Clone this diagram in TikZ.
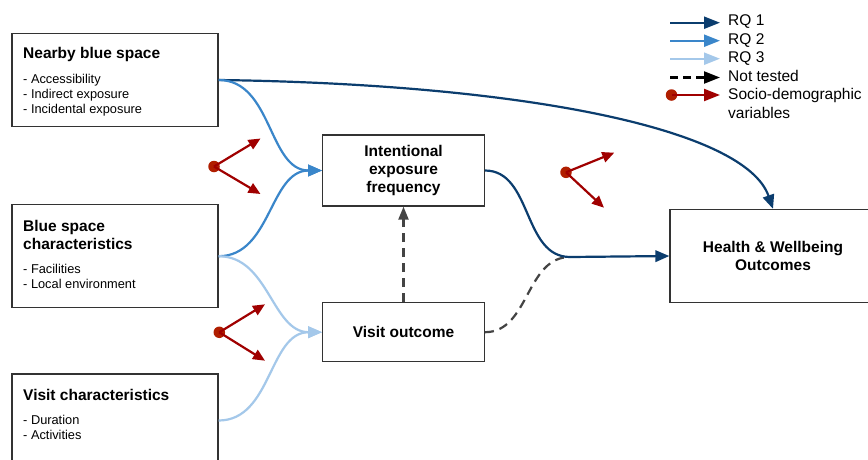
\documentclass[tikz,border=0pt]{standalone}
\usepackage{fontspec}
\setmainfont{Liberation Sans}
\usetikzlibrary{arrows.meta}
\definecolor{rqone}{HTML}{0B3D6E}
\definecolor{rqtwo}{HTML}{3A86CA}
\definecolor{rqthree}{HTML}{A4C8EA}
\definecolor{socred}{HTML}{A00000}
\definecolor{socdot}{HTML}{B01E00}
\definecolor{boxgray}{HTML}{333333}
\definecolor{dashgray}{HTML}{444444}
\begin{document}
\begin{tikzpicture}[x=1pt,y=-1pt,
  box/.style={draw=boxgray,line width=1.3pt,rectangle,inner sep=0pt,fill=white},
  ttl/.style={font=\fontsize{15.5}{18}\selectfont\bfseries,inner sep=0pt,align=left},
  itm/.style={font=\fontsize{12.8}{15}\selectfont,inner sep=0pt,align=left},
  ctr/.style={font=\fontsize{15.5}{18.3}\selectfont\bfseries,align=center},
  lgd/.style={font=\fontsize{15.5}{18.8}\selectfont,inner sep=0pt,align=left},
  tipbig/.style={-{Triangle[length=14pt,width=11.5pt]}},
  tiplgd/.style={-{Triangle[length=16pt,width=12pt]}},
  rqa/.style={draw=rqone,line width=2.2pt,tipbig},
  rqb/.style={draw=rqtwo,line width=2.2pt,tipbig},
  rqc/.style={draw=rqthree,line width=2.2pt,tipbig},
  ntg/.style={draw=dashgray,line width=2.2pt,dash pattern=on 9pt off 6pt,-{Triangle[length=13pt,width=10pt]}},
  ntline/.style={draw=dashgray,line width=2.2pt,dash pattern=on 9pt off 6pt},
  redarr/.style={draw=socred,line width=2.2pt,-{Triangle[length=12pt,width=10.5pt]}},
  reddot/.style={circle,fill=socdot,inner sep=0pt,minimum size=11.5pt},
]
\useasboundingbox (0,0) rectangle (868,459);
\clip (0,0) rectangle (868,459);
\fill[white] (0,0) rectangle (868,459);

% left boxes
\node[box,minimum width=206pt,minimum height=93pt] (nb) at (115,80) {};
\node[ttl,anchor=base west] (nbt) at (23,58.7) {Nearby blue space};
\node[itm,anchor=north west] (nbi) at (23,74.2) {- Accessibility\\- Indirect exposure\\- Incidental exposure};

\node[box,minimum width=206pt,minimum height=103pt] (bc) at (115,256.2) {};
\node[ttl,anchor=north west] (bct) at (23,220.3) {Blue space\\characteristics};
\node[itm,anchor=north west] (bci) at (23,264.2) {- Facilities\\- Local environment};

\node[box,minimum width=206pt,minimum height=93pt] (vc) at (115,420.5) {};
\node[ttl,anchor=base west] (vct) at (23,400) {Visit characteristics};
\node[itm,anchor=north west] (vci) at (23,415.2) {- Duration\\- Activities};

% middle boxes
\node[box,ctr,minimum width=161.6pt,minimum height=71pt] (ief) at (403.5,170.5) {Intentional\\exposure\\frequency};
\node[box,ctr,minimum width=161.6pt,minimum height=59pt] (vo) at (403.5,332.2) {Visit outcome};

% outcome box
\node[box,ctr,minimum width=206pt,minimum height=93pt] (hw) at (773,256) {Health \& Wellbeing\\Outcomes};

\coordinate (jn) at (570,257);

% connectors
\draw[rqa] (nb.east) .. controls (520,84) and (745,128) .. (hw.north);
\draw[rqb] (nb.east) to[out=0,in=180] (ief.west);
\draw[rqb] (bc.east) to[out=0,in=180] (ief.west);
\draw[rqc] (bc.east) to[out=0,in=180] (vo.west);
\draw[rqc] (vc.east) to[out=0,in=180] (vo.west);
\draw[ntline] (vo.east) to[out=0,in=180] (jn);
\draw[rqa] (ief.east) to[out=0,in=180] (jn) -- (hw.west);
\draw[ntg] (vo.north) -- (ief.south);

% socio-demographic arrows
\node[reddot] (s1) at (214,166.5) {};
\coordinate (s1a) at (260.5,138.5);
\coordinate (s1b) at (260.5,194);
\draw[redarr] (s1.center) -- (s1a);
\draw[redarr] (s1.center) -- (s1b);
\node[reddot] (s2) at (219.3,332.3) {};
\coordinate (s2a) at (265,304.3);
\coordinate (s2b) at (265,360.7);
\draw[redarr] (s2.center) -- (s2a);
\draw[redarr] (s2.center) -- (s2b);
\node[reddot] (s3) at (566,172.3) {};
\coordinate (s3a) at (614.3,152.7);
\coordinate (s3b) at (604,207.7);
\draw[redarr] (s3.center) -- (s3a);
\draw[redarr] (s3.center) -- (s3b);

% legend
\coordinate (l1s) at (670,22.7); \coordinate (l1e) at (720,22.7);
\coordinate (l2s) at (670,40.7); \coordinate (l2e) at (720,40.7);
\coordinate (l3s) at (670,58.7); \coordinate (l3e) at (720,58.7);
\coordinate (l4s) at (670,77.5); \coordinate (l4e) at (720,77.5);
\node[reddot] (l5s) at (671.5,95) {};
\coordinate (l5e) at (720,95);
\draw[rqa,tiplgd] (l1s) -- (l1e);
\draw[rqb,tiplgd] (l2s) -- (l2e);
\draw[rqc,tiplgd] (l3s) -- (l3e);
\draw[draw=black,line width=2.2pt,dash pattern=on 8pt off 5pt,tiplgd] (l4s) -- (l4e);
\draw[draw=socred,line width=2.2pt,tiplgd] (l5s.center) -- (l5e);
\node[lgd,anchor=base west] (t1) at (728,25.5) {RQ 1};
\node[lgd,anchor=base west] (t2) at (728,44) {RQ 2};
\node[lgd,anchor=base west] (t3) at (728,62.5) {RQ 3};
\node[lgd,anchor=base west] (t4) at (728,81.3) {Not tested};
\node[lgd,anchor=north west] (t5) at (728,88) {Socio-demographic\\variables};
\end{tikzpicture}
\end{document}
